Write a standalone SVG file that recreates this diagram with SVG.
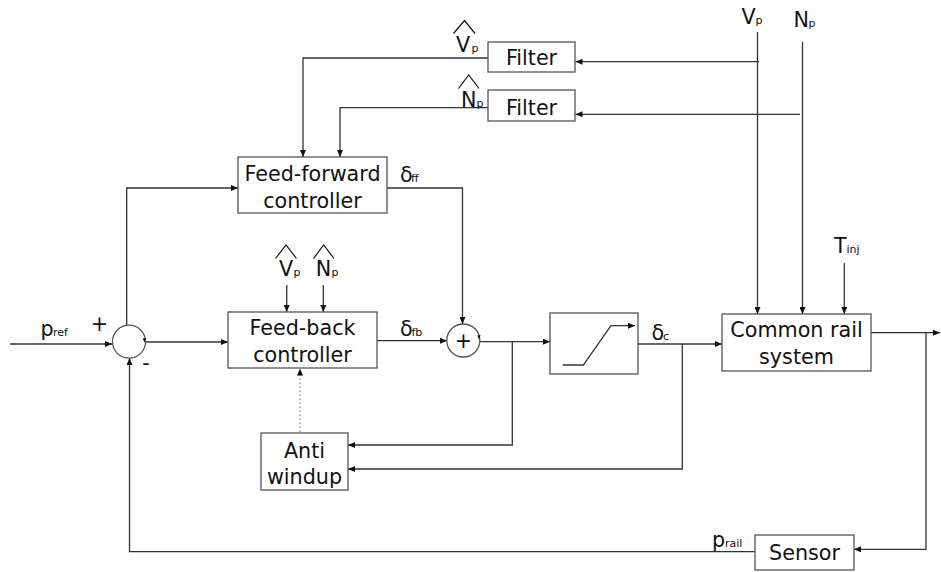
<svg xmlns="http://www.w3.org/2000/svg" width="941" height="572" viewBox="0 0 941 572">
<defs>
<marker id="arr" markerUnits="userSpaceOnUse" markerWidth="8" markerHeight="6" refX="7" refY="3" orient="auto">
<path d="M0,0 L7,3 L0,6 Z" fill="#111"/>
</marker>
<style>
.box{fill:#fff;stroke:#555;stroke-width:1.3}
.ln{fill:none;stroke:#333;stroke-width:1.3}
.dot{fill:none;stroke:#888;stroke-width:1.2;stroke-dasharray:1.5,2.5}
.t{font-family:"DejaVu Sans",sans-serif;font-size:20.7px;fill:#111}
.m{text-anchor:middle}
.s{font-family:"DejaVu Sans",sans-serif;font-size:11px;fill:#111}
.hat{fill:none;stroke:#111;stroke-width:1.2}
</style>
</defs>
<rect width="941" height="572" fill="#fff"/>

<g id="connectors">
<path class="ln" d="M757.5,32 V314" marker-end="url(#arr)"/>
<path class="ln" d="M802.5,42 V314" marker-end="url(#arr)"/>
<path class="ln" d="M759,61.7 H575.5" marker-end="url(#arr)"/>
<path class="ln" d="M800,114.3 H575.5" marker-end="url(#arr)"/>
<path class="ln" d="M488,58 H303 V157" marker-end="url(#arr)"/>
<path class="ln" d="M488,107.7 H340 V157" marker-end="url(#arr)"/>
<path class="ln" d="M10,344 H112" marker-end="url(#arr)"/>
<path class="ln" d="M126.7,325.5 V188 H238" marker-end="url(#arr)"/>
<path class="ln" d="M146,342 H228" marker-end="url(#arr)"/>
<path class="ln" d="M286.7,285 V312" marker-end="url(#arr)"/>
<path class="ln" d="M323.3,285 V312" marker-end="url(#arr)"/>
<path class="ln" d="M387,188 H462.5 V324" marker-end="url(#arr)"/>
<path class="ln" d="M377,340.7 H447" marker-end="url(#arr)"/>
<path class="ln" d="M480,341.7 H550" marker-end="url(#arr)"/>
<path class="ln" d="M512.3,341.7 V445 H348" marker-end="url(#arr)"/>
<path class="ln" d="M638,344 H722" marker-end="url(#arr)"/>
<path class="ln" d="M682.3,344 V469 H348" marker-end="url(#arr)"/>
<path class="ln" d="M844.3,263 V314" marker-end="url(#arr)"/>
<path class="ln" d="M871,332.7 H940" marker-end="url(#arr)"/>
<path class="ln" d="M926,332.7 V549.3 H854" marker-end="url(#arr)"/>
<path class="ln" d="M755,551.7 H129.5 V358" marker-end="url(#arr)"/>
<path class="dot" d="M300,432 V368.5" marker-end="url(#arr)"/>
</g>

<g id="input-vp">
<text class="t" x="741.5" y="24">V</text><text class="s" x="755.5" y="24">p</text>
</g>
<g id="input-np">
<text class="t" x="793.5" y="26.5">N</text><text class="s" x="808.5" y="26.5">p</text>
</g>
<g id="input-tinj">
<text class="t" x="834" y="253.3">T</text><text class="s" x="846.5" y="253.3">inj</text>
</g>

<g id="filter-vp">
<rect class="box" x="488" y="42" width="87" height="30"/>
<text class="t m" x="531.5" y="65">Filter</text>
<path class="hat" d="M453.5,33.5 L464.5,20.5 L475,33.5"/>
<text class="t" x="456" y="51.7">V</text><text class="s" x="471.5" y="51.7">p</text>
</g>
<g id="filter-np">
<rect class="box" x="488" y="90" width="87" height="31"/>
<text class="t m" x="531.5" y="115">Filter</text>
<path class="hat" d="M458.5,88.5 L468.7,75 L479,88.5"/>
<text class="t" x="461" y="106.7">N</text><text class="s" x="476.5" y="106.7">p</text>
</g>

<g id="feedforward">
<rect class="box" x="238" y="157" width="149" height="56"/>
<text class="t m" x="312.5" y="181">Feed-forward</text>
<text class="t m" x="312.5" y="207.7">controller</text>
<text class="t" x="400" y="181.5">δ</text><text class="s" x="411" y="181.5">ff</text>
</g>

<g id="sum">
<circle class="box" cx="129" cy="341.7" r="16.5"/>
<path d="M146,338 L144.5,342.5 L142.8,338.5 Z" fill="#111"/>
<text class="t m" x="99.5" y="331">+</text>
<text class="t m" x="146" y="370">-</text>
<text class="t" x="40.5" y="335.5">p</text><text class="s" x="53" y="335.5">ref</text>
</g>

<g id="feedback">
<rect class="box" x="228" y="312" width="149" height="56"/>
<text class="t m" x="302.5" y="335">Feed-back</text>
<text class="t m" x="302.5" y="361.7">controller</text>
<path class="hat" d="M275.5,258.5 L286,245 L296.5,258.5"/>
<text class="t" x="279" y="276">V</text><text class="s" x="293.5" y="276">p</text>
<path class="hat" d="M313.5,258.5 L323.7,245 L334,258.5"/>
<text class="t" x="315.7" y="276">N</text><text class="s" x="331.5" y="276">p</text>
<text class="t" x="400" y="335.5">δ</text><text class="s" x="411.5" y="335.5">fb</text>
</g>

<g id="adder">
<circle class="box" cx="463.3" cy="340.5" r="16.5"/>
<path d="M480.5,335 L479,339.5 L477.3,335.5 Z" fill="#111"/>
<text class="t m" x="463.3" y="348">+</text>
</g>

<g id="saturation">
<rect class="box" x="550" y="313" width="88" height="61"/>
<path class="ln" d="M562.7,365 H583.3 L611,325.7 H635" marker-end="url(#arr)"/>
<text class="t" x="651.5" y="340">δ</text><text class="s" x="663" y="340">c</text>
</g>

<g id="common-rail">
<rect class="box" x="722" y="314" width="149" height="57"/>
<text class="t m" x="796.5" y="337.3">Common rail</text>
<text class="t m" x="796.5" y="364">system</text>
</g>

<g id="anti-windup">
<rect class="box" x="261" y="433" width="87" height="57"/>
<text class="t m" x="304.5" y="458.3">Anti</text>
<text class="t m" x="304.5" y="484">windup</text>
</g>

<g id="sensor">
<rect class="box" x="755" y="535" width="99" height="35"/>
<text class="t m" x="804.5" y="560">Sensor</text>
<text class="t" x="712" y="546.5">p</text><text class="s" x="725" y="546.5">rail</text>
</g>
</svg>
